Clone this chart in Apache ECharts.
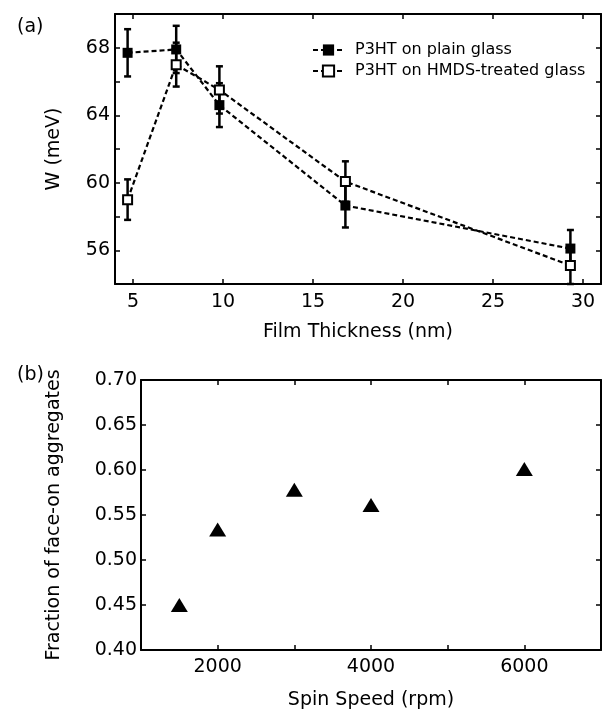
<!DOCTYPE html>
<html>
<head>
<meta charset="utf-8">
<script src="https://cdn.jsdelivr.net/npm/echarts@6/dist/echarts.min.js"></script>
<style>
  html, body { margin: 0; padding: 0; background: #fff; }
  #chart { width: 603px; height: 714px; }
</style>
</head>
<body>
<div id="chart"></div>
<script>
// (a) W vs film thickness
var thickness = [4.7, 7.4, 9.8, 16.8, 29.3];
var wPlain = [67.7, 67.9, 64.6, 58.65, 56.1];
var errPlain = [1.4, 1.4, 1.3, 1.3, 1.1];
var wHmds = [59.0, 67.0, 65.5, 60.07, 55.1];
var errHmds = [1.2, 1.3, 1.4, 1.2, 1.1];
var thickTicks = [5, 10, 15, 20, 25, 30];
var wTicks = [56, 58, 60, 62, 64, 66, 68];
var wLabels = [56, 60, 64, 68];

// (b) fraction vs spin speed
var spinSpeed = [1500, 2000, 3000, 4000, 6000];
var faceOn = [0.45, 0.534, 0.578, 0.561, 0.601];
var spinTicks = [2000, 3000, 4000, 5000, 6000];
var spinLabels = [2000, 4000, 6000];
var fracTicks = [0.40, 0.45, 0.50, 0.55, 0.60, 0.65, 0.70];

var FONT = 'DejaVu Sans';

function pairs(xs, ys) {
	return xs.map(function(x, i) { return [x, ys[i]]; });
}
function errRows(xs, ys, es) {
	return xs.map(function(x, i) { return [x, ys[i] - es[i], ys[i] + es[i]]; });
}

function errorBars(params, api) {
	var x = api.value(0);
	var lo = api.coord([x, api.value(1)]);
	var hi = api.coord([x, api.value(2)]);
	var cap = 3.5;
	var style = { stroke: '#000', lineWidth: 2.5 };
	return {
		type: 'group',
		children: [
			{ type: 'line', shape: { x1: lo[0], y1: lo[1], x2: hi[0], y2: hi[1] }, style: style },
			{ type: 'line', shape: { x1: lo[0] - cap, y1: lo[1], x2: lo[0] + cap, y2: lo[1] }, style: style },
			{ type: 'line', shape: { x1: hi[0] - cap, y1: hi[1], x2: hi[0] + cap, y2: hi[1] }, style: style }
		]
	};
}

function ticks(values) {
	return { show: true, inside: true, length: 5, customValues: values, lineStyle: { color: '#000', width: 1.5 } };
}

function axisBase(extra) {
	var a = {
		type: 'value',
		axisLine: { show: true, onZero: false, lineStyle: { color: '#000', width: 2 } },
		splitLine: { show: false },
		axisLabel: { show: false }
	};
	for (var k in extra) a[k] = extra[k];
	return a;
}

function labels(values, margin, fmt) {
	return {
		show: true, customValues: values, margin: margin,
		color: '#000', fontFamily: FONT, fontSize: 19,
		formatter: fmt || function(v) { return String(v); }
	};
}
var nameStyle = { color: '#000', fontFamily: FONT, fontSize: 19 };

var chart = echarts.init(document.getElementById('chart'));

var option = {
	animation: false,
	backgroundColor: '#fff',
	title: [
		{ text: '(a)', left: 12, top: 13, textStyle: { color: '#000', fontFamily: FONT, fontSize: 19, fontWeight: 'normal' } },
		{ text: '(b)', left: 12, top: 361, textStyle: { color: '#000', fontFamily: FONT, fontSize: 19, fontWeight: 'normal' } }
	],
	legend: {
		orient: 'vertical',
		left: 312,
		top: 42,
		padding: 0,
		itemWidth: 31,
		itemHeight: 14,
		itemGap: 5,
		data: ['P3HT on plain glass', 'P3HT on HMDS-treated glass'],
		textStyle: { color: '#000', fontFamily: FONT, fontSize: 16, padding: [0, 0, 0, 6] }
	},
	grid: [
		{ left: 115, top: 14, width: 486, height: 270 },
		{ left: 141, top: 380, width: 460, height: 270 }
	],
	xAxis: [
		axisBase({
			gridIndex: 0, position: 'bottom', min: 4, max: 31,
			axisTick: ticks(thickTicks),
			axisLabel: labels(thickTicks, 9),
			name: 'Film Thickness (nm)', nameLocation: 'middle', nameGap: 39, nameTextStyle: nameStyle
		}),
		axisBase({ gridIndex: 0, position: 'top', min: 4, max: 31, axisTick: ticks(thickTicks) }),
		axisBase({
			gridIndex: 1, position: 'bottom', min: 1000, max: 7000,
			axisTick: ticks(spinTicks),
			axisLabel: labels(spinLabels, 8),
			name: 'Spin Speed (rpm)', nameLocation: 'middle', nameGap: 41, nameTextStyle: nameStyle
		}),
		axisBase({ gridIndex: 1, position: 'top', min: 1000, max: 7000, axisTick: ticks(spinTicks) })
	],
	yAxis: [
		axisBase({
			gridIndex: 0, position: 'left', min: 54, max: 70,
			axisTick: ticks(wTicks),
			axisLabel: labels(wLabels, 5),
			name: 'W (meV)', nameLocation: 'middle', nameGap: 51, nameTextStyle: nameStyle
		}),
		axisBase({ gridIndex: 0, position: 'right', min: 54, max: 70, axisTick: ticks(wTicks) }),
		axisBase({
			gridIndex: 1, position: 'left', min: 0.40, max: 0.70,
			axisTick: ticks(fracTicks),
			axisLabel: labels(fracTicks, 4, function(v) { return v.toFixed(2); }),
			name: 'Fraction of face-on aggregates', nameLocation: 'middle', nameGap: 77, nameTextStyle: nameStyle
		}),
		axisBase({ gridIndex: 1, position: 'right', min: 0.40, max: 0.70, axisTick: ticks(fracTicks) })
	],
	series: [
		{
			name: 'err plain', type: 'custom', xAxisIndex: 0, yAxisIndex: 0, z: 1,
			renderItem: errorBars, data: errRows(thickness, wPlain, errPlain)
		},
		{
			name: 'err hmds', type: 'custom', xAxisIndex: 0, yAxisIndex: 0, z: 1,
			renderItem: errorBars, data: errRows(thickness, wHmds, errHmds)
		},
		{
			name: 'P3HT on plain glass', type: 'line', xAxisIndex: 0, yAxisIndex: 0, z: 3,
			data: pairs(thickness, wPlain),
			symbol: 'rect', symbolSize: 10,
			itemStyle: { color: '#000' },
			lineStyle: { color: '#000', width: 2.2, type: [5, 3] }
		},
		{
			name: 'P3HT on HMDS-treated glass', type: 'line', xAxisIndex: 0, yAxisIndex: 0, z: 4,
			data: pairs(thickness, wHmds),
			symbol: 'rect', symbolSize: 9,
			itemStyle: { color: '#fff', borderColor: '#000', borderWidth: 2 },
			lineStyle: { color: '#000', width: 2.2, type: [5, 3] }
		},
		{
			name: 'fraction', type: 'scatter', xAxisIndex: 2, yAxisIndex: 2,
			data: pairs(spinSpeed, faceOn),
			symbol: 'triangle', symbolSize: [17, 14],
			itemStyle: { color: '#000', opacity: 1 }
		}
	]
};

chart.setOption(option);
</script>
</body>
</html>
